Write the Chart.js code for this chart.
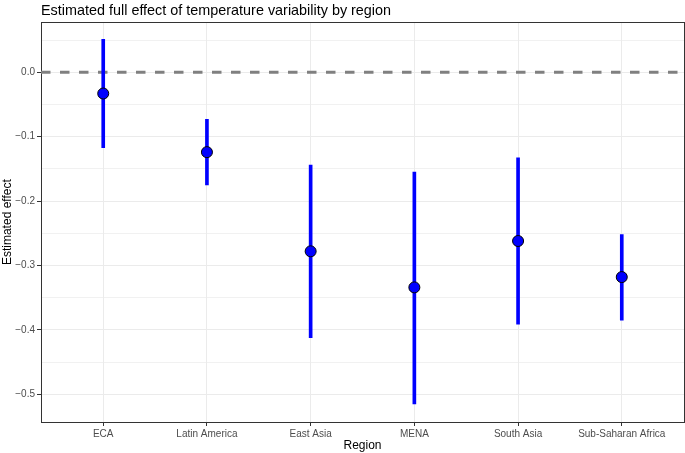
<!DOCTYPE html>
<html>
<head>
<meta charset="utf-8">
<script src="https://cdn.jsdelivr.net/npm/chart.js@4/dist/chart.umd.min.js"></script>
<style>
  body { margin: 0; background: #fff; }
  #wrap { width: 685px; height: 453px; }
</style>
</head>
<body>
<div id="wrap"><canvas id="chart" width="685" height="453"></canvas></div>
<script>
// values
const regions = ["ECA", "Latin America", "East Asia", "MENA", "South Asia", "Sub-Saharan Africa"];
const estimates = [-0.033, -0.124, -0.278, -0.334, -0.262, -0.318];
const lower = [-0.117, -0.175, -0.412, -0.515, -0.391, -0.385];
const upper = [0.051, -0.073, -0.144, -0.155, -0.133, -0.252];
const yMajorTicks = [0, -0.1, -0.2, -0.3, -0.4, -0.5];
const yMinorTicks = [0.05, -0.05, -0.15, -0.25, -0.35, -0.45];
const refLine = 0;

const X_MIN = -0.6, X_MAX = regions.length - 1 + 0.6;
const FONT = "'Liberation Sans', Arial, sans-serif";

const isMajor = v => yMajorTicks.some(t => Math.abs(t - v) < 1e-9);
const fmt = v => v.toFixed(1).replace("-", "\u2212");

// empty axes on top and right, just to close the panel border
const frameAxis = pos => ({
  position: pos,
  display: true,
  grid: { display: false, drawTicks: false },
  ticks: { display: false },
  border: { display: true, color: "#333333", width: 1 },
  afterFit: s => { s.width = 0; s.height = 0; s.paddingLeft = s.paddingRight = s.paddingTop = s.paddingBottom = 0; },
});

new Chart(document.getElementById("chart"), {
  type: "bar",
  data: {
    datasets: [
      {
        type: "scatter",
        order: 0,
        data: regions.map((r, i) => ({ x: i, y: estimates[i] })),
        pointRadius: 5.5,
        pointBackgroundColor: "#0000FF",
        pointBorderColor: "#000000",
        pointBorderWidth: 1,
      },
      {
        type: "bar",
        order: 1,
        data: regions.map((r, i) => ({ x: i, y: [lower[i], upper[i]] })),
        backgroundColor: "#0000FF",
        barThickness: 3,
        borderWidth: 0,
        grouped: false,
      },
      {
        type: "line",
        order: 2,
        data: [{ x: X_MIN, y: refLine }, { x: X_MAX, y: refLine }],
        borderColor: "#808080",
        borderWidth: 2.8,
        borderDash: [9.5, 9.5],
        pointRadius: 0,
        fill: false,
      },
    ],
  },
  options: {
    responsive: false,
    animation: false,
    layout: { autoPadding: false, padding: { top: 0, right: 1, bottom: 0, left: 0 } },
    plugins: {
      legend: { display: false },
      tooltip: { enabled: false },
      title: {
        display: true,
        text: "Estimated full effect of temperature variability by region",
        align: "start",
        fullSize: false,
        color: "#000000",
        font: { family: FONT, size: 14.4, weight: "normal" },
        padding: { top: 2, bottom: 3 },
      },
    },
    scales: {
      x: {
        type: "linear",
        min: X_MIN,
        max: X_MAX,
        offset: false,
        afterBuildTicks: s => { s.ticks = regions.map((r, i) => ({ value: i })); },
        afterFit: s => { s.height = 31; s.paddingLeft = 0; s.paddingRight = 0; },
        ticks: {
          callback: v => regions[v],
          color: "#4d4d4d",
          font: { family: FONT, size: 10 },
          padding: 2,
          maxRotation: 0,
          autoSkip: false,
        },
        grid: { offset: false, color: "#ebebeb", lineWidth: 1, tickLength: 4, tickColor: "#333333" },
        border: { display: true, color: "#333333", width: 1 },
        title: {
          display: true,
          text: "Region",
          color: "#000000",
          font: { family: FONT, size: 12 },
          padding: { top: 0, bottom: 0 },
        },
      },
      y: {
        min: -0.543,
        max: 0.0776,
        afterBuildTicks: s => {
          s.ticks = [...yMajorTicks, ...yMinorTicks].sort((a, b) => a - b).map(v => ({ value: v }));
        },
        afterFit: s => { s.width = 41; s.paddingTop = 0; s.paddingBottom = 0; },
        ticks: {
          callback: v => (isMajor(v) ? fmt(v) : ""),
          color: "#4d4d4d",
          font: { family: FONT, size: 10 },
          padding: 2,
          autoSkip: false,
        },
        grid: {
          color: "#ebebeb",
          lineWidth: ctx => (ctx.tick && isMajor(ctx.tick.value) ? 1 : 0.7),
          tickLength: 4,
          tickColor: ctx => (ctx.tick && isMajor(ctx.tick.value) ? "#333333" : "rgba(0,0,0,0)"),
        },
        border: { display: true, color: "#333333", width: 1 },
        title: {
          display: true,
          text: "Estimated effect",
          color: "#000000",
          font: { family: FONT, size: 12 },
          padding: { top: 0, bottom: 2 },
        },
      },
      xTop: Object.assign({ type: "linear", axis: "x" }, frameAxis("top")),
      yRight: Object.assign({ type: "linear", axis: "y" }, frameAxis("right")),
    },
  },
});
</script>
</body>
</html>
